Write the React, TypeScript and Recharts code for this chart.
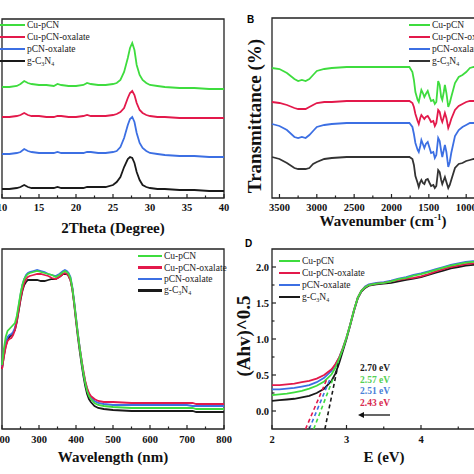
import React from "react";
import { LineChart, Line, XAxis, YAxis, ReferenceArea, ReferenceLine } from "recharts";

const SERIF = '"Liberation Serif", "Times New Roman", serif';
const AXIS = "#222";
const GREEN = "#3edc3e";
const RED = "#e3194b";
const BLUE = "#3c6fe3";
const BLACK = "#1a1a1a";
const GREY = "#333";

const seriesNames = ["Cu-pCN", "Cu-pCN-oxalate", "pCN-oxalate", "g-C3N4"];

// A: XRD
const theta = [10, 11, 12, 12.5, 13, 13.5, 14, 15, 16, 17, 17.5, 18, 19, 20, 21, 21.5, 22, 23, 24, 25, 25.5, 26, 26.5, 27, 27.3, 27.6, 27.9, 28.2, 28.6, 29, 29.5, 30, 31, 32, 34, 36, 38, 40];
const xrdCuPCN = [111, 111, 112, 114, 117, 115, 114, 113, 113, 112, 114, 113, 112, 112, 113, 115, 114, 113, 113, 114, 115, 118, 126, 140, 150, 155, 148, 133, 123, 118, 115, 113, 112, 111, 110, 110, 109, 109];
const xrdCuOx = [81, 81, 82, 83, 85, 83, 82, 82, 81, 81, 82, 82, 81, 81, 82, 83, 82, 82, 82, 83, 84, 86, 90, 100, 105, 107, 103, 95, 88, 85, 83, 82, 81, 81, 80, 80, 80, 80];
const xrdPOx = [44, 44, 45, 46, 49, 47, 46, 45, 45, 45, 46, 45, 45, 45, 45, 46, 46, 45, 45, 46, 47, 51, 60, 73, 79, 81, 76, 65, 55, 50, 47, 45, 44, 43, 42, 42, 41, 41];
const xrdGCN = [9, 9, 10, 11, 13, 11, 10, 10, 10, 10, 11, 10, 10, 10, 10, 11, 11, 11, 11, 13, 16, 21, 31, 39, 41, 40, 35, 26, 18, 13, 11, 10, 9, 9, 8, 8, 7, 7];
const thetaTicks = [10, 12.5, 15, 17.5, 20, 22.5, 25, 27.5, 30, 32.5, 35, 37.5, 40];

// B: FTIR
const wavenumber = [3600, 3500, 3400, 3300, 3250, 3200, 3150, 3100, 3050, 3000, 2900, 2800, 2600, 2400, 2200, 2000, 1800, 1760, 1720, 1700, 1680, 1650, 1635, 1615, 1600, 1580, 1560, 1540, 1515, 1490, 1470, 1440, 1420, 1400, 1375, 1355, 1335, 1320, 1300, 1285, 1265, 1240, 1220, 1200, 1150, 1100, 1050, 1000, 950, 900, 800, 700, 600, 500, 400];
const irCuPCN = [130, 129, 125, 119, 117, 118, 117, 119, 123, 127, 129, 130, 131, 131, 131, 131, 131, 131, 126, 118, 106, 98, 96, 103, 108, 105, 101, 104, 107, 101, 97, 98, 94, 96, 117, 113, 101, 98, 106, 113, 105, 91, 95, 101, 115, 121, 123, 126, 130, 131, 131, 131, 131, 131, 131];
const irCuOx = [96, 95, 93, 90, 89, 89, 89, 91, 93, 95, 96, 96, 97, 97, 97, 97, 97, 97, 95, 91, 84, 77, 74, 80, 83, 81, 79, 81, 82, 79, 76, 77, 72, 75, 88, 86, 79, 76, 81, 85, 80, 70, 74, 79, 88, 92, 94, 96, 97, 97, 97, 97, 97, 97, 97];
const irPOx = [74, 72, 68, 61, 60, 61, 60, 63, 67, 71, 73, 74, 75, 75, 75, 75, 75, 75, 71, 64, 55, 48, 46, 52, 58, 54, 50, 54, 56, 50, 45, 46, 40, 43, 60, 57, 47, 41, 48, 53, 46, 31, 36, 45, 62, 68, 71, 73, 75, 75, 75, 75, 75, 75, 75];
const irGCN = [41, 39, 35, 30, 29, 29, 29, 30, 34, 36, 39, 40, 41, 41, 41, 41, 41, 41, 39, 33, 22, 15, 11, 16, 18, 15, 14, 18, 19, 15, 12, 13, 10, 12, 28, 26, 18, 14, 18, 21, 16, 10, 13, 18, 30, 34, 35, 37, 38, 39, 39, 39, 39, 39, 39];
const wnTicks = [3500, 3250, 3000, 2750, 2500, 2250, 2000, 1750, 1500, 1250, 1000, 750, 500];

// C: UV-vis DRS
const wavelength = [200, 205, 210, 215, 220, 225, 230, 235, 240, 245, 250, 255, 260, 265, 270, 275, 285, 295, 305, 315, 325, 335, 345, 355, 365, 370, 375, 380, 385, 390, 395, 400, 405, 410, 415, 420, 425, 430, 435, 440, 450, 460, 475, 500, 550, 600, 650, 700, 715, 725, 750, 800];
const uvCuPCN = [64, 80, 92, 98, 100, 102, 104, 106, 113, 124, 135, 144, 150, 153, 155, 156, 157, 158, 157, 156, 155, 154, 152, 154, 157, 158, 157, 155, 151, 141, 127, 111, 95, 81, 68, 56, 46, 38, 33, 30, 26, 24, 23, 22, 21, 21, 21, 21, 21, 20, 20, 20];
const uvCuOx = [60, 72, 82, 88, 90, 91, 94, 99, 108, 119, 130, 139, 146, 150, 152, 153, 154, 155, 155, 154, 153, 151, 150, 152, 155, 156, 155, 153, 149, 140, 126, 110, 95, 81, 69, 58, 48, 41, 36, 33, 30, 28, 27, 27, 26, 26, 26, 26, 26, 25, 25, 25];
const uvPOx = [62, 76, 86, 92, 94, 95, 97, 101, 110, 122, 134, 144, 150, 154, 156, 157, 158, 159, 158, 157, 155, 154, 153, 155, 158, 159, 158, 156, 152, 142, 128, 112, 96, 82, 69, 57, 47, 40, 35, 32, 28, 26, 25, 24, 24, 24, 24, 24, 23, 23, 23, 23];
const uvGCN = [60, 73, 83, 89, 92, 94, 96, 99, 107, 118, 129, 138, 144, 147, 149, 149, 149, 149, 148, 148, 149, 150, 150, 152, 155, 155, 155, 153, 149, 140, 125, 108, 92, 78, 65, 53, 43, 35, 30, 27, 23, 21, 20, 19, 18, 18, 18, 18, 18, 17, 17, 17];
const wlTicks = [200, 250, 300, 350, 400, 450, 500, 550, 600, 650, 700, 750, 800];

// D: Tauc plot
const energy = [2.0, 2.1, 2.2, 2.3, 2.4, 2.5, 2.6, 2.7, 2.8, 2.85, 2.9, 2.95, 3.0, 3.05, 3.1, 3.15, 3.2, 3.25, 3.3, 3.4, 3.5, 3.6, 3.7, 3.8, 3.9, 4.0, 4.1, 4.2, 4.3, 4.4, 4.5, 4.6, 4.7, 4.8];
const taucCuPCN = [0.22, 0.23, 0.24, 0.26, 0.28, 0.31, 0.35, 0.41, 0.51, 0.6, 0.72, 0.86, 1.02, 1.2, 1.4, 1.57, 1.67, 1.72, 1.75, 1.77, 1.78, 1.8, 1.83, 1.85, 1.88, 1.9, 1.93, 1.96, 1.99, 2.02, 2.04, 2.06, 2.07, 2.08];
const taucCuOx = [0.36, 0.36, 0.37, 0.38, 0.4, 0.42, 0.45, 0.5, 0.58, 0.65, 0.74, 0.87, 1.02, 1.2, 1.4, 1.57, 1.67, 1.72, 1.75, 1.77, 1.78, 1.8, 1.82, 1.84, 1.85, 1.87, 1.9, 1.94, 1.97, 2.0, 2.02, 2.04, 2.05, 2.06];
const taucPOx = [0.3, 0.3, 0.31, 0.32, 0.34, 0.36, 0.4, 0.46, 0.56, 0.64, 0.74, 0.87, 1.02, 1.2, 1.4, 1.57, 1.67, 1.73, 1.76, 1.78, 1.79, 1.81, 1.84, 1.86, 1.89, 1.91, 1.94, 1.97, 2.0, 2.03, 2.05, 2.07, 2.08, 2.09];
const taucGCN = [0.14, 0.15, 0.16, 0.17, 0.19, 0.21, 0.25, 0.31, 0.42, 0.52, 0.66, 0.83, 1.0, 1.19, 1.39, 1.56, 1.66, 1.71, 1.74, 1.76, 1.77, 1.78, 1.8, 1.82, 1.84, 1.86, 1.89, 1.92, 1.95, 1.98, 2.0, 2.02, 2.03, 2.04];
const eTicks = [2, 2.5, 3, 3.5, 4, 4.5, 5];
const taucTicks = [0, 0.25, 0.5, 0.75, 1, 1.25, 1.5, 1.75, 2];
// tangent extrapolations (E, y) -> order: Cu-pCN-oxalate, pCN-oxalate, Cu-pCN, g-C3N4
const tangentE0 = [2.45, 2.5, 2.56, 2.71];
const tangentY0 = [-0.25, -0.25, -0.25, -0.25];
const tangentE1 = [2.74, 2.78, 2.82, 2.89];
const tangentY1 = [0.45, 0.45, 0.45, 0.66];
const gapLabels = ["2.70 eV", "2.57 eV", "2.51 eV", "2.43 eV"];

const zip = (xs: number[], a: number[], b: number[], c: number[], d: number[]) =>
  xs.map((x, i) => ({ x, s1: a[i], s2: b[i], s3: c[i], s4: d[i] }));

const xrdRows = zip(theta, xrdCuPCN, xrdCuOx, xrdPOx, xrdGCN);
const irRows = zip(wavenumber, irCuPCN, irCuOx, irPOx, irGCN);
const uvRows = zip(wavelength, uvCuPCN, uvCuOx, uvPOx, uvGCN);
const taucRows = zip(energy, taucCuPCN, taucCuOx, taucPOx, taucGCN);

const makeXTick = (isMajor: (v: number) => boolean, dy: number) => (props: any) => {
  const { x, y, payload } = props;
  const major = isMajor(payload.value);
  return (
    <g>
      <line x1={x} x2={x} y1={y} y2={y - (major ? 4 : 2.5)} stroke={AXIS} strokeWidth={1.2} />
      {major && (
        <text x={x} y={y + dy} textAnchor="middle" fontFamily={SERIF} fontWeight="bold" fontSize={10.5} fill="#111">
          {payload.value}
        </text>
      )}
    </g>
  );
};

const yTickD = (props: any) => {
  const { x, y, payload } = props;
  const v = payload.value;
  const major = Math.abs(v * 2 - Math.round(v * 2)) < 1e-6;
  return (
    <g>
      <line x1={x} x2={x + (major ? 4 : 2.5)} y1={y} y2={y} stroke={AXIS} strokeWidth={1.2} />
      {major && (
        <text x={x - 3} y={y + 3.5} textAnchor="end" fontFamily={SERIF} fontWeight="bold" fontSize={10.5} fill="#111">
          {v.toFixed(1)}
        </text>
      )}
    </g>
  );
};

const Name = ({ n }: { n: string }) =>
  n === "g-C3N4" ? (
    <span>
      g-C<sub style={{ fontSize: 6, verticalAlign: -2 }}>3</sub>N<sub style={{ fontSize: 6, verticalAlign: -2 }}>4</sub>
    </span>
  ) : (
    <span>{n}</span>
  );

function LegendBox({ left, top, lineW, colors, gap = 12 }: { left: number; top: number; lineW: number; colors: string[]; gap?: number }) {
  return (
    <div style={{ position: "absolute", left, top, fontFamily: SERIF, fontSize: 9.5, color: "#222" }}>
      {seriesNames.map((n, i) => (
        <div key={n} style={{ position: "absolute", top: i * gap - 6, height: 12, display: "flex", alignItems: "center", whiteSpace: "nowrap" }}>
          <span style={{ display: "inline-block", width: lineW, height: 2.6, background: colors[i], marginRight: 2 }} />
          <Name n={n} />
        </div>
      ))}
    </div>
  );
}

const Title = ({ x, y, size = 15, rotate = false, children }: any) => (
  <div
    style={{
      position: "absolute",
      left: x,
      top: y,
      transform: `translate(-50%, -50%)${rotate ? " rotate(-90deg)" : ""}`,
      fontFamily: SERIF,
      fontWeight: "bold",
      fontSize: size,
      color: "#111",
      whiteSpace: "nowrap",
      lineHeight: 1,
    }}
  >
    {children}
  </div>
);

const colorsAC = [GREEN, RED, BLUE, BLACK];
const colorsB = [GREEN, RED, BLUE, GREY];

function Series({ colors, w = 1.8 }: { colors: string[]; w?: number }) {
  return null;
}

export default function App() {
  const lines = (colors: string[], w: number) =>
    ["s4", "s3", "s2", "s1"].map((k) => {
      const idx = Number(k[1]) - 1;
      return <Line key={k} dataKey={k} type="linear" stroke={colors[idx]} strokeWidth={w} dot={false} isAnimationActive={false} />;
    });

  return (
    <div style={{ position: "absolute", left: 0, top: 0, width: 474, height: 474, overflow: "hidden", background: "#fff" }}>
      {/* A */}
      <div style={{ position: "absolute", left: 0, top: 0 }}>
        <LineChart width={237} height={237} data={xrdRows} margin={{ top: 19, left: 2, right: 13, bottom: 0 }}>
          <XAxis dataKey="x" type="number" domain={[10, 40]} ticks={thetaTicks} interval={0} height={39} axisLine={false} tickLine={false} tickSize={0} tickMargin={0} tick={makeXTick((v) => v % 5 === 0, 13)} />
          <YAxis hide type="number" domain={[0, 179]} />
          <ReferenceArea x1={10} x2={40} y1={0} y2={179} fill="none" stroke={AXIS} strokeWidth={1.3} ifOverflow="visible" />
          {lines(colorsAC, 1.8)}
        </LineChart>
      </div>
      <LegendBox left={0} top={25} lineW={25} colors={colorsAC} />
      <Title x={113} y={228}>2Theta (Degree)</Title>

      {/* B */}
      <div style={{ position: "absolute", left: 237, top: 0 }}>
        <LineChart width={300} height={237} data={irRows} margin={{ top: 18, left: 35, right: 26, bottom: 0 }}>
          <XAxis dataKey="x" type="number" reversed domain={[400, 3600]} ticks={wnTicks} interval={0} height={39} axisLine={false} tickLine={false} tickSize={0} tickMargin={0} tick={makeXTick((v) => v % 500 === 0, 13)} />
          <YAxis hide type="number" domain={[0, 180]} />
          <ReferenceArea x1={400} x2={3600} y1={0} y2={180} fill="none" stroke={AXIS} strokeWidth={1.3} ifOverflow="visible" />
          {lines(colorsB, 1.8)}
        </LineChart>
      </div>
      <LegendBox left={409} top={25} lineW={21} colors={colorsB} />
      <Title x={383} y={221}>
        Wavenumber (cm<sup style={{ fontSize: 9 }}>-1</sup>)
      </Title>
      <Title x={254} y={116} size={19} rotate>
        Transmittance (%)
      </Title>
      <div style={{ position: "absolute", left: 247, top: 14, fontFamily: "Arial, Liberation Sans, sans-serif", fontWeight: "bold", fontSize: 10 }}>B</div>

      {/* C */}
      <div style={{ position: "absolute", left: 0, top: 237 }}>
        <LineChart width={237} height={237} data={uvRows} margin={{ top: 12, left: 2, right: 13, bottom: 0 }}>
          <XAxis dataKey="x" type="number" domain={[200, 800]} ticks={wlTicks} interval={0} height={45} axisLine={false} tickLine={false} tickSize={0} tickMargin={0} tick={makeXTick((v) => v % 100 === 0, 14)} />
          <YAxis hide type="number" domain={[0, 180]} />
          <ReferenceArea x1={200} x2={800} y1={0} y2={180} fill="none" stroke={AXIS} strokeWidth={1.3} ifOverflow="visible" />
          {lines(colorsAC, 1.8)}
        </LineChart>
      </div>
      <LegendBox left={138} top={256} lineW={24} colors={colorsAC} gap={11.5} />
      <Title x={113} y={457}>Wavelength (nm)</Title>

      {/* D */}
      <div style={{ position: "absolute", left: 237, top: 237 }}>
        <LineChart width={280} height={237} data={taucRows} margin={{ top: 12, left: 0, right: 21.5, bottom: 0 }}>
          <XAxis dataKey="x" type="number" domain={[2, 5]} ticks={eTicks} interval={0} height={45} axisLine={false} tickLine={false} tickSize={0} tickMargin={0} tick={makeXTick((v) => Number.isInteger(v), 14)} />
          <YAxis type="number" domain={[-0.25, 2.25]} ticks={taucTicks} interval={0} width={35} axisLine={false} tickLine={false} tickSize={0} tickMargin={0} tick={yTickD} />
          <ReferenceArea x1={2} x2={5} y1={-0.25} y2={2.25} fill="none" stroke={AXIS} strokeWidth={1.3} ifOverflow="visible" />
          {lines(colorsAC, 1.8)}
          {[RED, BLUE, GREEN, BLACK].map((c, i) => (
            <ReferenceLine
              key={c}
              segment={[
                { x: tangentE0[i], y: tangentY0[i] },
                { x: tangentE1[i], y: tangentY1[i] },
              ]}
              stroke={c}
              strokeWidth={1.6}
              strokeDasharray="4 3"
              ifOverflow="visible"
            />
          ))}
        </LineChart>
      </div>
      <LegendBox left={279} top={261} lineW={21} colors={colorsAC} />
      {gapLabels.map((t, i) => (
        <div
          key={t}
          style={{
            position: "absolute",
            left: 360,
            top: 363 + i * 11.7,
            fontFamily: SERIF,
            fontWeight: "bold",
            fontSize: 9.5,
            color: [BLACK, "#55d055", "#4a7fd8", "#d8294f"][i],
            whiteSpace: "nowrap",
          }}
        >
          {t}
        </div>
      ))}
      <svg style={{ position: "absolute", left: 357, top: 410 }} width={36} height={10}>
        <line x1={5} y1={5} x2={33} y2={5} stroke="#111" strokeWidth={1.3} />
        <path d="M1,5 L7,2 L7,8 Z" fill="#111" />
      </svg>
      <Title x={384} y={457}>E (eV)</Title>
      <Title x={243} y={336} size={19} rotate>
        (Ahv)^0.5
      </Title>
      <div style={{ position: "absolute", left: 245, top: 238, fontFamily: "Arial, Liberation Sans, sans-serif", fontWeight: "bold", fontSize: 10 }}>D</div>
    </div>
  );
}
